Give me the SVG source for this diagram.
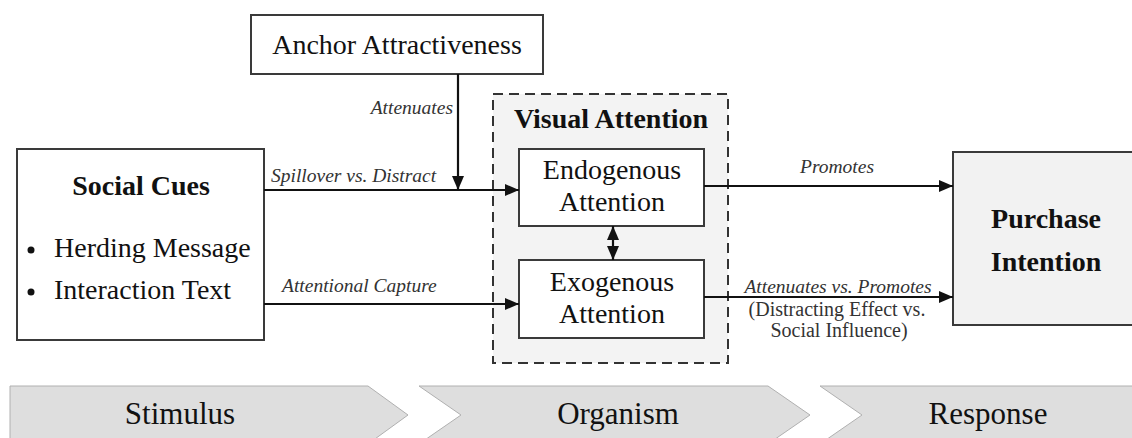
<svg xmlns="http://www.w3.org/2000/svg" width="1132" height="438" viewBox="0 0 1132 438">
<style>
.box{fill:#fff;stroke:#3a3a3a;stroke-width:2}
.gbox{fill:#f2f2f2;stroke:#3a3a3a;stroke-width:2}
.t{font-family:"Liberation Serif","Times New Roman",serif;font-size:28px;fill:#111;text-anchor:middle}
.b{font-weight:bold}
.lab{font-family:"Liberation Serif","Times New Roman",serif;font-size:19.5px;font-style:italic;fill:#333}
.sub{font-family:"Liberation Serif","Times New Roman",serif;font-size:20px;fill:#333;text-anchor:middle}
.ln{stroke:#111;stroke-width:2.2;fill:none}
.band{fill:#dedede;stroke:#b0b0b0;stroke-width:1}
.bt{font-family:"Liberation Serif","Times New Roman",serif;font-size:31px;fill:#111;text-anchor:middle}
</style>
<defs>
<marker id="ah" viewBox="0 0 14 12" refX="14" refY="6" markerWidth="14" markerHeight="12" markerUnits="userSpaceOnUse" orient="auto-start-reverse">
<path d="M0,0 L14,6 L0,12 Z" fill="#111"/>
</marker>
</defs>
<rect width="1132" height="438" fill="#fff"/>

<g id="stage-band">
<polygon class="band" points="10,386 368,386 408,415 368,444 10,444"/>
<polygon class="band" points="419,386 768,386 810,415 768,444 419,444 461,415"/>
<polygon class="band" points="820,386 1140,386 1140,444 820,444 862,415"/>
<text class="bt" x="180" y="424">Stimulus</text>
<text class="bt" x="618" y="424">Organism</text>
<text class="bt" x="988" y="424">Response</text>
</g>

<g id="visual-attention">
<rect x="493" y="94" width="235" height="269" fill="#f3f3f3" stroke="#333" stroke-width="2" stroke-dasharray="10,6"/>
<text class="t b" x="611" y="128">Visual Attention</text>
</g>

<g id="anchor">
<rect class="box" x="251" y="15" width="292" height="59"/>
<text class="t" x="397" y="54">Anchor Attractiveness</text>
</g>

<g id="social-cues">
<rect class="box" x="17" y="149" width="247" height="191"/>
<text class="t b" x="141" y="195">Social Cues</text>
<circle cx="31" cy="250" r="3.5" fill="#111"/>
<text class="t" x="54" y="257" style="text-anchor:start">Herding Message</text>
<circle cx="31" cy="292" r="3.5" fill="#111"/>
<text class="t" x="54" y="299" style="text-anchor:start">Interaction Text</text>
</g>

<g id="endogenous">
<rect class="box" x="519" y="149" width="185" height="77"/>
<text class="t" x="612" y="179">Endogenous</text>
<text class="t" x="612" y="211">Attention</text>
</g>

<g id="exogenous">
<rect class="box" x="519" y="260" width="185" height="78"/>
<text class="t" x="612" y="291">Exogenous</text>
<text class="t" x="612" y="323">Attention</text>
</g>

<g id="purchase">
<rect class="gbox" x="953" y="152" width="190" height="173"/>
<text class="t b" x="1046" y="228">Purchase</text>
<text class="t b" x="1046" y="271">Intention</text>
</g>

<g id="connectors">
<line class="ln" x1="264" y1="190" x2="519" y2="190" marker-end="url(#ah)"/>
<line class="ln" x1="458" y1="74" x2="458" y2="190" marker-end="url(#ah)"/>
<line class="ln" x1="264" y1="304" x2="519" y2="304" marker-end="url(#ah)"/>
<line class="ln" x1="613" y1="226" x2="613" y2="260" marker-start="url(#ah)" marker-end="url(#ah)"/>
<line class="ln" x1="704" y1="186" x2="953" y2="186" marker-end="url(#ah)"/>
<line class="ln" x1="704" y1="297" x2="953" y2="297" marker-end="url(#ah)"/>
<text class="lab" x="453" y="114" text-anchor="end">Attenuates</text>
<text class="lab" x="271" y="182">Spillover vs. Distract</text>
<text class="lab" x="282" y="292">Attentional Capture</text>
<text class="lab" x="837" y="173" text-anchor="middle">Promotes</text>
<text class="lab" x="838" y="293" text-anchor="middle">Attenuates vs. Promotes</text>
<text class="sub" x="837" y="316">(Distracting Effect vs.</text>
<text class="sub" x="839" y="337">Social Influence)</text>
</g>
</svg>
